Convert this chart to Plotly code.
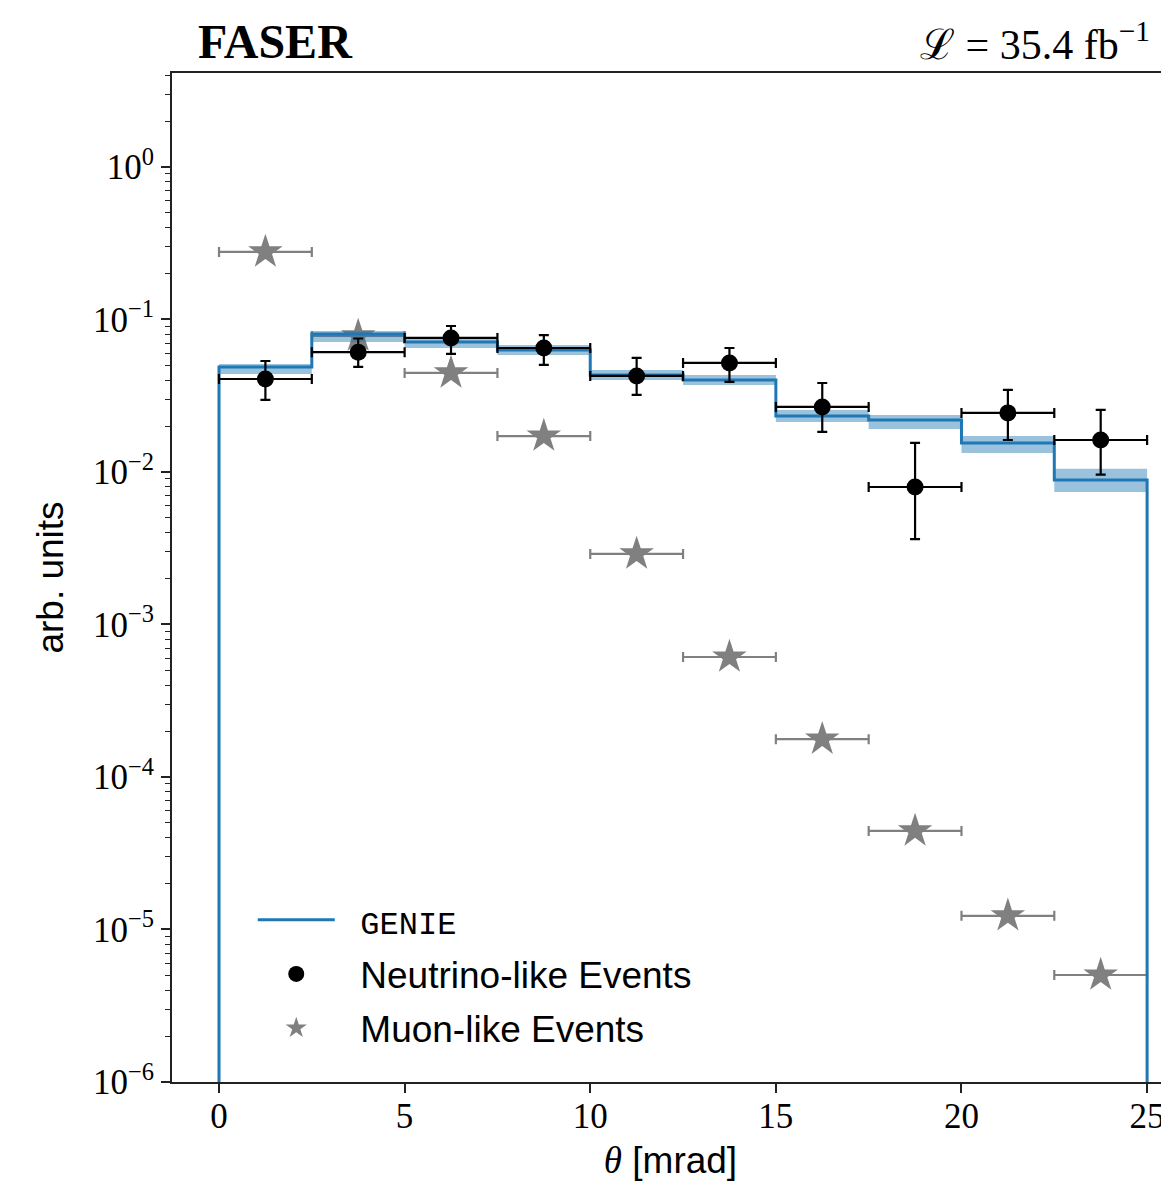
import plotly.graph_objects as go

# ---------------- data ----------------
bin_edges = [0, 2.5, 5, 7.5, 10, 12.5, 15, 17.5, 20, 22.5, 25]
bin_centers = [1.25, 3.75, 6.25, 8.75, 11.25, 13.75, 16.25, 18.75, 21.25, 23.75]
bin_halfwidth = [1.25] * 10

genie = [0.0488, 0.0803, 0.0712, 0.0631, 0.0433, 0.0401, 0.0233, 0.0219, 0.0155, 0.00887]
genie_up = [0.0511, 0.0841, 0.0756, 0.0680, 0.0467, 0.0433, 0.0255, 0.0236, 0.0172, 0.0105]
genie_lo = [0.0439, 0.0712, 0.0650, 0.0585, 0.0401, 0.0372, 0.0213, 0.0191, 0.0133, 0.0074]

nu_val = [0.0407, 0.0610, 0.0757, 0.0650, 0.0426, 0.0519, 0.0267, 0.00797, 0.0244, 0.0162]
nu_hi = [0.0534, 0.0750, 0.0906, 0.0790, 0.0560, 0.0650, 0.0383, 0.0155, 0.0345, 0.0255]
nu_lo = [0.0297, 0.0489, 0.0594, 0.0503, 0.0320, 0.0390, 0.0183, 0.00363, 0.0162, 0.0096]

mu_val = [0.277, 0.078, 0.0446, 0.0172, 0.0029, 0.000612, 0.000177, 4.43e-5, 1.23e-5, 5.03e-6]

y_floor = 1e-6
ytick_vals = [1e-6, 1e-5, 1e-4, 1e-3, 1e-2, 1e-1, 1e0]
ytick_text = ["10<sup>−6</sup>", "10<sup>−5</sup>", "10<sup>−4</sup>", "10<sup>−3</sup>",
              "10<sup>−2</sup>", "10<sup>−1</sup>", "10<sup>0</sup>"]
xtick_vals = [0, 5, 10, 15, 20, 25]

BLUE = "#1f77b4"
SERIF = "Liberation Serif"
SANS = "Liberation Sans"
GAP = "\u00a0\u00a0"  # extra space between legend key and label

# step helpers built from the data
def steps(vals):
    return list(vals) + [vals[-1]]

nu_err_plus = [h - v for h, v in zip(nu_hi, nu_val)]
nu_err_minus = [v - l for l, v in zip(nu_lo, nu_val)]

fig = go.Figure()

# Muon-like (drawn first, behind)
fig.add_trace(go.Scatter(
    x=bin_centers, y=mu_val, mode="markers", name=GAP + "Muon-like Events",
    marker=dict(symbol="star", size=26, color="#808080", line=dict(width=0)),
    error_x=dict(type="data", array=bin_halfwidth, color="#808080", thickness=2.2, width=5),
    legendrank=3, legendgroup="c",
))

# GENIE band
fig.add_trace(go.Scatter(
    x=bin_edges, y=steps(genie_lo), mode="lines", line=dict(width=0, shape="hv"),
    showlegend=False, hoverinfo="skip",
))
fig.add_trace(go.Scatter(
    x=bin_edges, y=steps(genie_up), mode="lines", line=dict(width=0, shape="hv"),
    fill="tonexty", fillcolor="rgba(31,119,180,0.45)", showlegend=False, hoverinfo="skip",
))
# GENIE line (histogram step incl. drops to the floor at both edges)
fig.add_trace(go.Scatter(
    x=[bin_edges[0]] + bin_edges + [bin_edges[-1]],
    y=[y_floor] + steps(genie) + [y_floor],
    mode="lines", line=dict(color=BLUE, width=3, shape="hv"),
    name=GAP + "<span style=\"font-family:'Liberation Mono';font-size:32px\">GENIE</span>",
    legendrank=1, legendgroup="a",
))

# Neutrino-like
fig.add_trace(go.Scatter(
    x=bin_centers, y=nu_val, mode="markers", name=GAP + "Neutrino-like Events",
    marker=dict(symbol="circle", size=17, color="black"),
    error_x=dict(type="data", array=bin_halfwidth, color="black", thickness=2.2, width=5),
    error_y=dict(type="data", symmetric=False, array=nu_err_plus, arrayminus=nu_err_minus,
                 color="black", thickness=2.2, width=5),
    legendrank=2, legendgroup="b",
))

fig.update_layout(
    width=1161, height=1174,
    margin=dict(l=164, r=0, t=65, b=100),
    plot_bgcolor="white", paper_bgcolor="white",
    showlegend=True,
    legend=dict(
        x=0.081, y=0.191, xanchor="left", yanchor="top",
        bgcolor="rgba(0,0,0,0)", font=dict(family=SANS, size=37, color="black"),
        tracegroupgap=3, itemwidth=77,
    ),
    font=dict(family=SERIF, color="black"),
)

fig.update_xaxes(
    range=[-1.266, 25.59], showgrid=False, zeroline=False,
    showline=True, linecolor="#222", linewidth=2, mirror=True,
    ticks="outside", ticklen=9, tickwidth=1.5, tickcolor="#222",
    ticklabelstandoff=-7,
    tickvals=xtick_vals, tickfont=dict(family=SERIF, size=35, color="black"),
    title=dict(text="<span style=\"font-family:'Liberation Serif'\"><i>θ</i></span> [mrad]",
               font=dict(family=SANS, size=37, color="black"), standoff=12),
)
fig.update_yaxes(
    type="log", range=[-6, 0.616], showgrid=False, zeroline=False,
    showline=True, linecolor="#222", linewidth=2, mirror=False,
    ticks="outside", ticklen=9, tickwidth=1.5, tickcolor="#222",
    tickvals=ytick_vals, ticktext=ytick_text,
    tickfont=dict(family=SERIF, size=35, color="black"),
    minor=dict(ticks="outside", ticklen=5, tickwidth=1.2, tickcolor="#222", dtick="D1", showgrid=False),
    title=dict(text="arb. units", font=dict(family=SANS, size=37, color="black"), standoff=18),
)

fig.add_annotation(
    xref="paper", yref="paper", x=0.024, y=1.031, xanchor="left", yanchor="middle",
    text="<b>FASER</b>", showarrow=False,
    font=dict(family=SERIF, size=48, color="black"),
)
fig.add_annotation(
    xref="paper", yref="paper", x=0.748, y=1.031, xanchor="left", yanchor="middle",
    text="ℒ = 35.4 fb<sup>−1</sup>", showarrow=False,
    font=dict(family=SERIF, size=42, color="black"),
)

fig.write_html("out.html")
